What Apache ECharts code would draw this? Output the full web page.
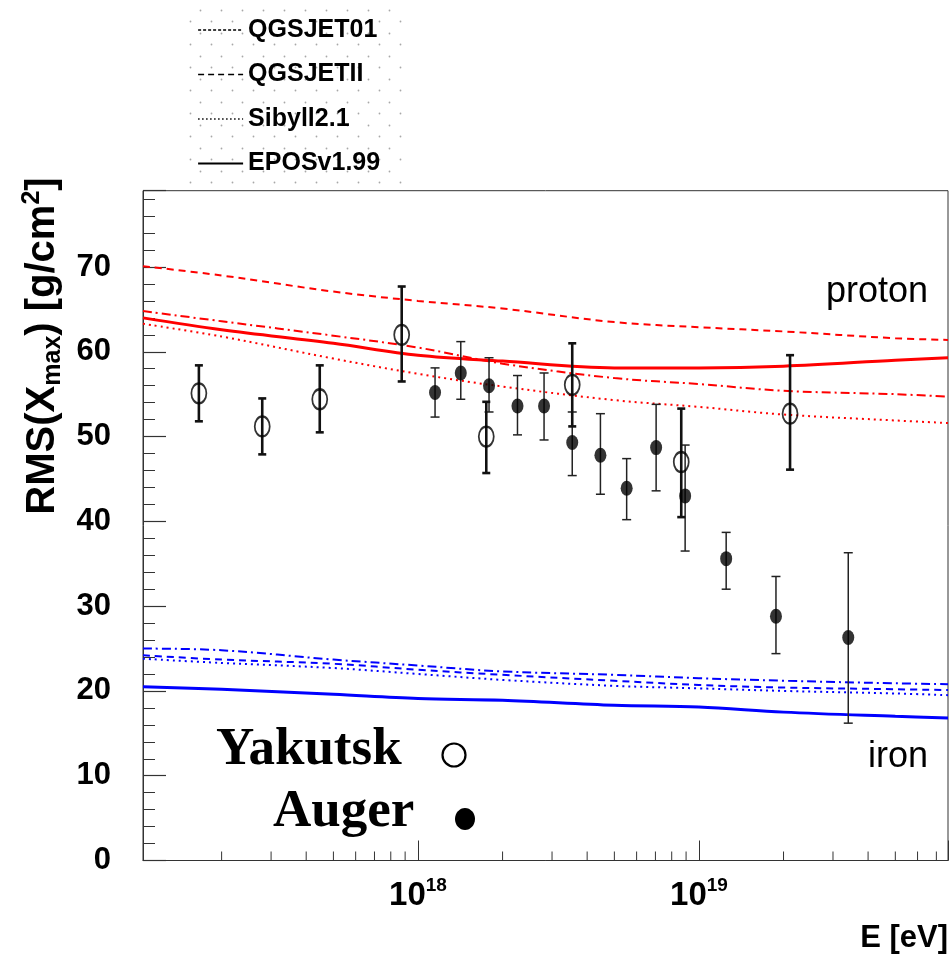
<!DOCTYPE html>
<html>
<head>
<meta charset="utf-8">
<script src="https://cdn.jsdelivr.net/npm/echarts@6/dist/echarts.min.js"></script>
<style>
  html, body { margin: 0; padding: 0; background: #fff; }
  #chart { width: 951px; height: 961px; }
</style>
</head>
<body>
<div id="chart"></div>
<script>
// Hadronic interaction models shown in the legend
const modelNames = ['QGSJET01', 'QGSJETII', 'Sibyll2.1', 'EPOSv1.99'];

// Energies (eV) at which the model predictions are sampled
const modelEnergy = [1.05e17, 2e17, 5e17, 1e18, 2e18, 5e18, 1e19, 2e19, 5e19, 7.7e19];

// RMS(Xmax) predictions for protons, g/cm^2
const protonQGSJET01 = [70.1, 69.0, 67.1, 66.0, 65.1, 63.5, 62.9, 62.4, 61.6, 61.4];
const protonQGSJETII = [64.8, 63.6, 61.9, 60.5, 58.6, 56.9, 56.2, 55.4, 55.0, 54.7];
const protonSibyll = [63.3, 61.8, 59.2, 57.4, 55.9, 54.3, 53.5, 52.6, 51.9, 51.6];
const protonEPOS = [64.0, 62.6, 61.0, 59.6, 58.9, 58.1, 58.1, 58.3, 59.0, 59.3];

// RMS(Xmax) predictions for iron, g/cm^2
const ironQGSJET01 = [24.2, 23.7, 23.2, 22.5, 21.9, 21.2, 20.7, 20.4, 20.2, 20.1];
const ironQGSJETII = [25.0, 24.8, 23.7, 23.0, 22.3, 21.9, 21.5, 21.2, 20.9, 20.8];
const ironSibyll = [23.8, 23.3, 22.7, 22.0, 21.3, 20.6, 20.3, 20.0, 19.7, 19.5];
const ironEPOS = [20.5, 20.2, 19.6, 19.1, 18.9, 18.3, 18.1, 17.5, 17.0, 16.8];

// Yakutsk measurements
const yakutskEnergy = [1.66e17, 2.79e17, 4.47e17, 8.75e17, 1.75e18, 3.54e18, 8.65e18, 2.11e19];
const yakutskRms = [55.1, 51.2, 54.4, 62.0, 50.0, 56.1, 47.0, 52.7];
const yakutskLow = [51.8, 47.9, 50.5, 56.5, 45.7, 51.2, 40.5, 46.1];
const yakutskHigh = [58.4, 54.5, 58.4, 67.7, 54.1, 61.0, 53.3, 59.6];

// Auger measurements
const augerEnergy = [1.15e18, 1.42e18, 1.79e18, 2.26e18, 2.81e18, 3.54e18, 4.46e18, 5.53e18, 7.04e18, 8.93e18, 1.25e19, 1.88e19, 3.4e19];
const augerRms = [55.2, 57.5, 56.0, 53.6, 53.6, 49.3, 47.8, 43.9, 48.7, 43.0, 35.6, 28.8, 26.3];
const augerLow = [52.3, 54.4, 52.9, 50.2, 49.6, 45.4, 43.2, 40.2, 43.6, 36.5, 32.0, 24.4, 16.2];
const augerHigh = [58.1, 61.2, 59.3, 57.2, 57.5, 52.9, 52.7, 47.4, 53.8, 49.0, 38.7, 33.5, 36.3];

// Axis ranges and ticks
const energyMin = 1.05e17;
const energyMax = 7.7e19;
const rmsMin = 0;
const rmsMax = 79;
const rmsMajorStep = 10;
const rmsMinorStep = 2;
const energyMinorTicks = [
  2e17, 3e17, 4e17, 5e17, 6e17, 7e17, 8e17, 9e17,
  2e18, 3e18, 4e18, 5e18, 6e18, 7e18, 8e18, 9e18,
  2e19, 3e19, 4e19, 5e19, 6e19, 7e19
];

const SANS = 'Liberation Sans, Arial, Helvetica, sans-serif';
const SERIF = 'Liberation Serif, Times New Roman, serif';
const RED = '#ff0000';
const BLUE = '#0000ff';
const FRAME = '#333333';

const lineLook = {
  'QGSJET01': { type: [7, 5], width: 2 },
  'QGSJETII': { type: [9, 4, 2, 4], width: 2 },
  'Sibyll2.1': { type: [2, 4], width: 2 },
  'EPOSv1.99': { type: 'solid', width: 3 }
};
const legendLook = {
  'QGSJET01': [3, 2],
  'QGSJETII': [6, 4],
  'Sibyll2.1': [1.5, 2.5],
  'EPOSv1.99': 'solid'
};

const protonCurves = [protonQGSJET01, protonQGSJETII, protonSibyll, protonEPOS];
const ironCurves = [ironQGSJET01, ironQGSJETII, ironSibyll, ironEPOS];

const pairs = (xs, ys) => xs.map((x, i) => [x, ys[i]]);
const triples = (xs, lo, hi) => xs.map((x, i) => [x, lo[i], hi[i]]);

// Staggered dot fill used behind the legend
const dotTile = document.createElement('canvas');
dotTile.width = 21;
dotTile.height = 23;
(function () {
  const c = dotTile.getContext('2d');
  c.fillStyle = '#a8a8a8';
  c.beginPath(); c.arc(1.5, 21.5, 0.9, 0, Math.PI * 2); c.fill();
  c.beginPath(); c.arc(11.5, 10.5, 0.9, 0, Math.PI * 2); c.fill();
})();

function errorBars(capHalf, width, color) {
  return function (params, api) {
    const e = api.value(0);
    const lo = api.coord([e, api.value(1)]);
    const hi = api.coord([e, api.value(2)]);
    const st = { stroke: color, lineWidth: width };
    return {
      type: 'group',
      children: [
        { type: 'line', shape: { x1: lo[0], y1: lo[1], x2: hi[0], y2: hi[1] }, style: st },
        { type: 'line', shape: { x1: lo[0] - capHalf, y1: lo[1], x2: lo[0] + capHalf, y2: lo[1] }, style: st },
        { type: 'line', shape: { x1: hi[0] - capHalf, y1: hi[1], x2: hi[0] + capHalf, y2: hi[1] }, style: st }
      ]
    };
  };
}

const series = [];
modelNames.forEach((name, i) => {
  const look = lineLook[name];
  series.push({
    name: name, type: 'line', data: pairs(modelEnergy, protonCurves[i]),
    symbol: 'none', smooth: 0.35, silent: true, z: 2,
    lineStyle: { color: RED, width: look.width, type: look.type }
  });
  series.push({
    name: name, type: 'line', data: pairs(modelEnergy, ironCurves[i]),
    symbol: 'none', smooth: 0.35, silent: true, z: 2,
    lineStyle: { color: BLUE, width: look.width, type: look.type }
  });
});

// Minor ticks of the logarithmic energy axis
series.push({
  type: 'custom', silent: true, z: 5,
  data: energyMinorTicks.map(e => [e, rmsMin]),
  encode: { x: 0, y: 1 },
  renderItem: function (params, api) {
    const p = api.coord([api.value(0), rmsMin]);
    return { type: 'line', shape: { x1: p[0], y1: p[1], x2: p[0], y2: p[1] - 9 },
             style: { stroke: FRAME, lineWidth: 1 } };
  }
});

series.push({
  type: 'custom', silent: true, z: 3,
  data: triples(augerEnergy, augerLow, augerHigh),
  encode: { x: 0, y: [1, 2] },
  renderItem: errorBars(4.5, 1.5, '#222')
});
series.push({
  type: 'custom', silent: true, z: 3,
  data: triples(yakutskEnergy, yakutskLow, yakutskHigh),
  encode: { x: 0, y: [1, 2] },
  renderItem: errorBars(4, 2.6, '#111')
});
series.push({
  type: 'scatter', silent: true, z: 4,
  data: pairs(augerEnergy, augerRms),
  symbol: 'circle', symbolSize: [12, 15],
  itemStyle: { color: '#000' }
});
series.push({
  type: 'scatter', silent: true, z: 4,
  data: pairs(yakutskEnergy, yakutskRms),
  symbol: 'circle', symbolSize: [15, 20],
  itemStyle: { color: 'rgba(0,0,0,0)', borderColor: '#000', borderWidth: 2 }
});

const isPow10 = v => {
  const p = Math.log10(v);
  return Math.abs(p - Math.round(p)) < 1e-6;
};

const option = {
  animation: false,
  backgroundColor: '#fff',
  grid: {
    left: 143, right: 3, top: 190.7, bottom: 100.5,
    show: true, borderColor: FRAME, borderWidth: 1, backgroundColor: 'transparent'
  },
  legend: {
    orient: 'vertical', left: 197, top: 17, padding: 0,
    itemWidth: 45, itemHeight: 26, itemGap: 18.5,
    selectedMode: false,
    itemStyle: { color: 'rgba(0,0,0,0)', borderColor: 'rgba(0,0,0,0)', borderWidth: 0 },
    textStyle: { fontFamily: SANS, fontWeight: 'bold', fontSize: 25, color: '#000', lineHeight: 26 },
    data: modelNames.map(n => ({
      name: n,
      lineStyle: { color: '#000', width: n === 'EPOSv1.99' ? 2.2 : 1.6, type: legendLook[n] },
      itemStyle: { color: 'rgba(0,0,0,0)', borderColor: 'rgba(0,0,0,0)', borderWidth: 0 }
    }))
  },
  xAxis: {
    type: 'log', logBase: 10, min: energyMin, max: energyMax,
    axisLine: { show: true, lineStyle: { color: FRAME, width: 1 } },
    axisTick: { show: true, inside: true, length: 20, lineStyle: { color: FRAME, width: 1 } },
    splitLine: { show: false },
    axisLabel: {
      margin: 16,
      formatter: v => isPow10(v) ? '{b|10}{s|' + Math.round(Math.log10(v)) + '}' : '',
      rich: {
        b: { fontFamily: SANS, fontWeight: 'bold', fontSize: 33, lineHeight: 33, color: '#000', padding: [5, 0, 0, 0] },
        s: { fontFamily: SANS, fontWeight: 'bold', fontSize: 19, lineHeight: 19, color: '#000', verticalAlign: 'top' }
      }
    }
  },
  yAxis: [
    {
      type: 'value', min: rmsMin, max: rmsMax, interval: rmsMajorStep,
      axisLine: { show: true, lineStyle: { color: FRAME, width: 1 } },
      axisTick: { show: true, inside: true, length: 23, lineStyle: { color: FRAME, width: 1.2 } },
      splitLine: { show: false },
      axisLabel: {
        margin: 32, color: '#000', fontFamily: SANS, fontWeight: 'bold', fontSize: 31,
        formatter: v => (v % rmsMajorStep === 0 ? String(v) : '')
      }
    },
    {
      type: 'value', min: rmsMin, max: rmsMax, interval: rmsMinorStep, position: 'left',
      axisLine: { show: false },
      axisTick: { show: true, inside: true, length: 12, lineStyle: { color: FRAME, width: 1 } },
      axisLabel: { show: false },
      splitLine: { show: false }
    }
  ],
  graphic: [
    {
      type: 'rect', z: -1, silent: true,
      shape: { x: 182, y: 0, width: 222, height: 189 },
      style: { fill: { image: dotTile, repeat: 'repeat' } }
    },
    {
      type: 'text', silent: true, x: 43, y: 346, rotation: Math.PI / 2,
      style: {
        text: '{t|RMS(X}{sub|max}{t|) [g/cm}{sup|2}{t|]}',
        align: 'center', verticalAlign: 'middle', fill: '#000',
        rich: {
          t: { fontFamily: SANS, fontWeight: 'bold', fontSize: 40, lineHeight: 46, fill: '#000' },
          sub: { fontFamily: SANS, fontWeight: 'bold', fontSize: 25, lineHeight: 25, fill: '#000', verticalAlign: 'bottom' },
          sup: { fontFamily: SANS, fontWeight: 'bold', fontSize: 25, lineHeight: 25, fill: '#000', verticalAlign: 'top' }
        }
      }
    },
    {
      type: 'text', silent: true, x: 948, y: 938.7,
      style: { text: 'E [eV]', align: 'right', verticalAlign: 'middle', fill: '#000',
               font: 'bold 31px ' + SANS }
    },
    {
      type: 'text', silent: true, x: 928, y: 292.5,
      style: { text: 'proton', align: 'right', verticalAlign: 'middle', fill: '#000',
               font: '36px ' + SANS }
    },
    {
      type: 'text', silent: true, x: 928, y: 756.8,
      style: { text: 'iron', align: 'right', verticalAlign: 'middle', fill: '#000',
               font: '36px ' + SANS }
    },
    {
      type: 'text', silent: true, x: 216, y: 750.5,
      style: { text: 'Yakutsk', align: 'left', verticalAlign: 'middle', fill: '#000',
               font: 'bold 53px ' + SERIF }
    },
    {
      type: 'text', silent: true, x: 273, y: 812.5,
      style: { text: 'Auger', align: 'left', verticalAlign: 'middle', fill: '#000',
               font: 'bold 53px ' + SERIF }
    },
    {
      type: 'ellipse', silent: true,
      shape: { cx: 454, cy: 755, rx: 11.5, ry: 11.5 },
      style: { fill: 'rgba(0,0,0,0)', stroke: '#000', lineWidth: 2.2 }
    },
    {
      type: 'ellipse', silent: true,
      shape: { cx: 465, cy: 819, rx: 10, ry: 11 },
      style: { fill: '#000' }
    }
  ],
  series: series
};

const chart = echarts.init(document.getElementById('chart'));
chart.setOption(option);
</script>
</body>
</html>
